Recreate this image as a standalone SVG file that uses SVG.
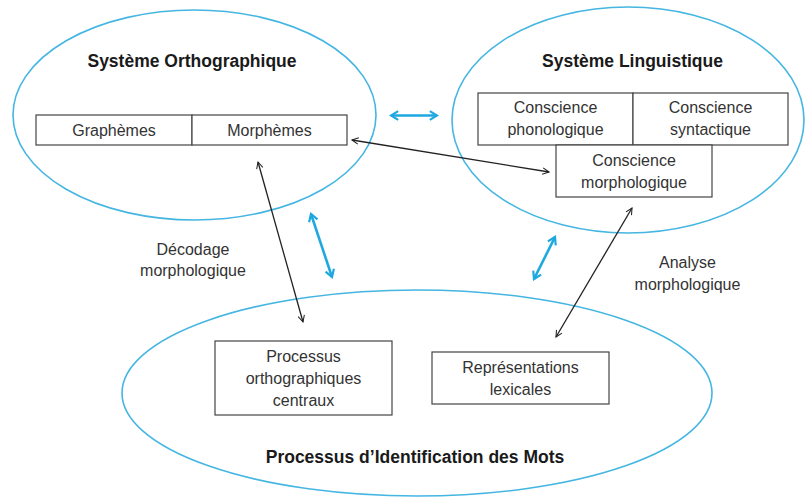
<svg xmlns="http://www.w3.org/2000/svg" width="805" height="499" viewBox="0 0 805 499">
<defs>
<marker id="ab" viewBox="0 0 10 10" refX="9" refY="5" markerWidth="8" markerHeight="8" markerUnits="userSpaceOnUse" orient="auto-start-reverse">
<polyline points="1,1 9,5 1,9" fill="none" stroke="#222" stroke-width="1.3"/>
</marker>
<marker id="ablue" viewBox="0 0 10 10" refX="8.5" refY="5" markerWidth="11" markerHeight="11" markerUnits="userSpaceOnUse" orient="auto-start-reverse">
<polyline points="2,1 8.5,5 2,9" fill="none" stroke="#1ea8e0" stroke-width="2"/>
</marker>
</defs>
<style>
.ell{fill:none;stroke:#45b6e2;stroke-width:1.6}
.box{fill:#fff;stroke:#444;stroke-width:1.2}
.t{font-family:"Liberation Sans",Arial,sans-serif;font-size:16px;fill:#333;text-anchor:middle}
.h{font-family:"Liberation Sans",Arial,sans-serif;font-size:17.5px;font-weight:bold;fill:#1a1a1a;text-anchor:middle}
.blk{stroke:#222;stroke-width:1.3;fill:none;marker-start:url(#ab);marker-end:url(#ab)}
.blu{stroke:#1ea8e0;stroke-width:2.6;fill:none;marker-start:url(#ablue);marker-end:url(#ablue)}
</style>
<rect width="805" height="499" fill="#fff"/>
<g id="systeme-orthographique">
<ellipse class="ell" cx="194.5" cy="115" rx="181.5" ry="105"/>
<text class="h" x="192" y="67">Système Orthographique</text>
</g>
<g id="graphemes">
<rect class="box" x="36" y="115" width="156" height="30"/>
<text class="t" x="114" y="136">Graphèmes</text>
</g>
<g id="morphemes">
<rect class="box" x="192" y="115" width="155" height="30"/>
<text class="t" x="269.5" y="136">Morphèmes</text>
</g>
<g id="systeme-linguistique">
<ellipse class="ell" cx="628" cy="120" rx="176" ry="113"/>
<text class="h" x="632.5" y="67">Système Linguistique</text>
</g>
<g id="conscience-phonologique">
<rect class="box" x="478" y="93" width="155" height="52"/>
<text class="t" x="555.5" y="113">Conscience</text>
<text class="t" x="555.5" y="135">phonologique</text>
</g>
<g id="conscience-syntactique">
<rect class="box" x="633" y="93" width="155" height="52"/>
<text class="t" x="710.5" y="113">Conscience</text>
<text class="t" x="710.5" y="135">syntactique</text>
</g>
<g id="conscience-morphologique">
<rect class="box" x="556" y="145" width="156" height="52"/>
<text class="t" x="634" y="166">Conscience</text>
<text class="t" x="634" y="188">morphologique</text>
</g>
<g id="processus-identification">
<ellipse class="ell" cx="417" cy="393" rx="295" ry="103"/>
<text class="h" x="415" y="463">Processus d’Identification des Mots</text>
</g>
<g id="processus-orthographiques">
<rect class="box" x="215" y="341" width="177" height="74"/>
<text class="t" x="303.5" y="362">Processus</text>
<text class="t" x="303.5" y="384">orthographiques</text>
<text class="t" x="303.5" y="406">centraux</text>
</g>
<g id="representations-lexicales">
<rect class="box" x="432" y="352" width="177" height="52"/>
<text class="t" x="520.5" y="373">Représentations</text>
<text class="t" x="520.5" y="395">lexicales</text>
</g>
<g id="connectors">
<line class="blu" x1="391" y1="115.5" x2="437" y2="115.5"/>
<line class="blu" x1="311" y1="214" x2="332" y2="277"/>
<line class="blu" x1="555" y1="237" x2="534" y2="279"/>
<line class="blk" x1="352" y1="140" x2="549" y2="172"/>
<line class="blk" x1="258" y1="162" x2="303" y2="322"/>
<line class="blk" x1="632" y1="208" x2="556" y2="337"/>
<text class="t" x="193" y="255">Décodage</text>
<text class="t" x="193" y="276">morphologique</text>
<text class="t" x="687.5" y="268">Analyse</text>
<text class="t" x="687.5" y="290">morphologique</text>
</g>
</svg>
